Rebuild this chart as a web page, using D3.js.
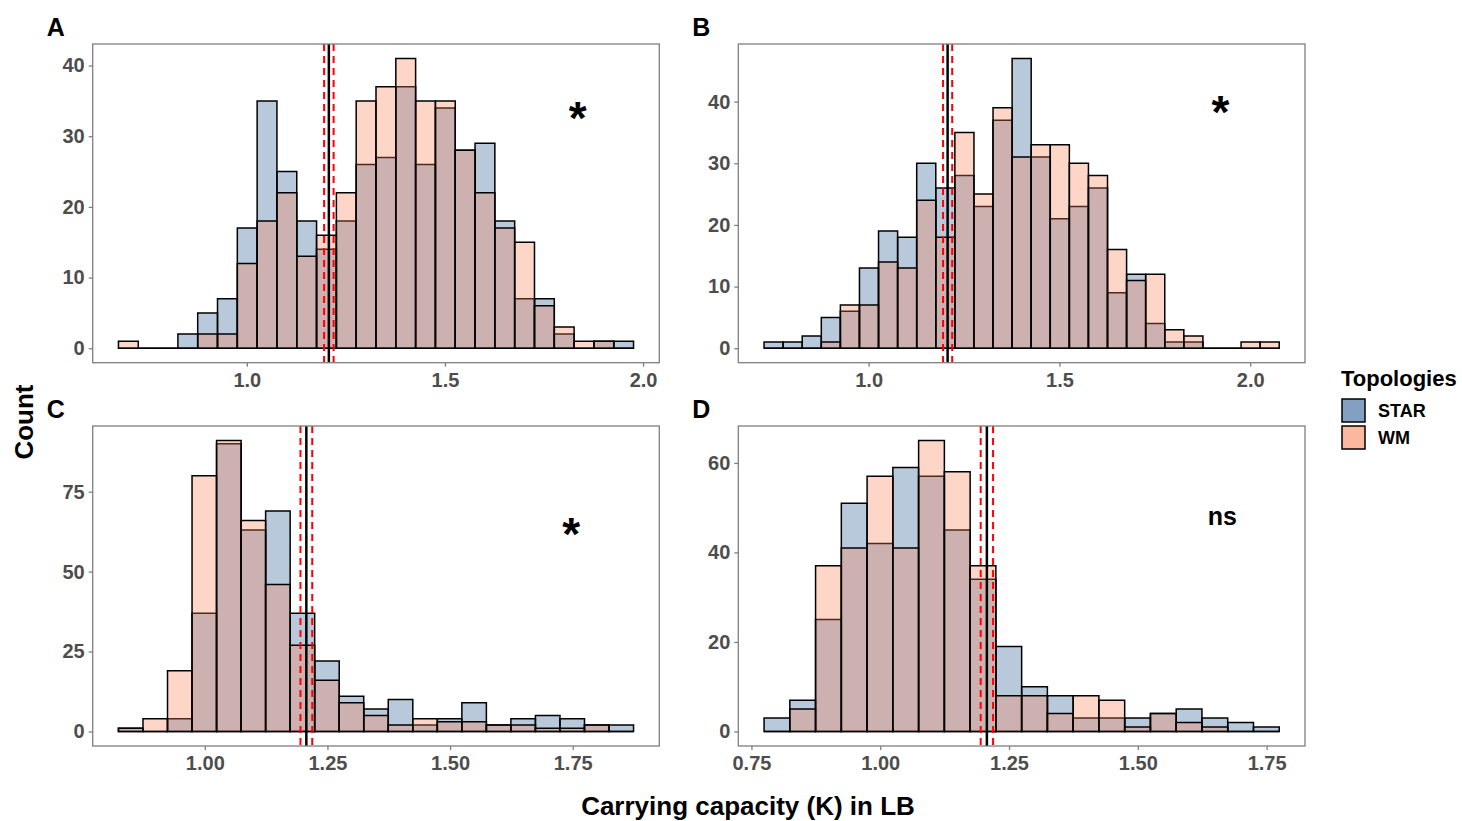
<!DOCTYPE html>
<html>
<head>
<meta charset="utf-8">
<script src="https://cdn.jsdelivr.net/npm/d3@7"></script>
<style>
  body { margin: 0; background: #ffffff; }
  text { font-family: "Liberation Sans", Arial, Helvetica, sans-serif; font-weight: bold; }
</style>
</head>
<body>
<svg id="chart" width="1462" height="821"></svg>
<script>
// Histogram counts of carrying capacity (K) per topology, bin width 0.05
const topologies = ["STAR", "WM"];
const panelIds = ["A", "B", "C", "D"];
const binWidth = 0.05;
const binStarts = [0.676, 0.726, 0.824, 0.7745];

const starA = [0,0,0,2,5,7,17,35,25,18,14,18,26,27,37,26,34,28,29,18,7,7,2,0,1,1];
const wmA   = [1,0,0,0,2,2,12,18,22,13,16,22,35,37,41,35,35,28,22,17,15,6,3,1,1,0];
const starB = [1,1,2,5,6,13,19,18,30,26,28,23,37,47,31,21,23,26,9,12,4,1,1,0,0,0,0];
const wmB   = [0,0,0,1,7,7,14,13,24,18,35,25,39,31,33,33,30,28,16,11,12,3,2,0,0,1,1];
const starC = [1,0,4,37,90,63,69,37,22,11,7,10,2,4,9,2,4,5,4,2,2];
const wmC   = [1,4,19,80,91,66,46,27,16,9,5,2,4,3,3,2,2,1,1,2,0];
const starD = [3,7,25,51,42,59,57,45,34,19,10,8,3,3,3,4,5,3,2,1];
const wmD   = [0,5,37,41,57,41,65,58,37,8,8,4,8,7,1,4,2,1,0,0];

// Axis tick values
const xTicksA = [1.0, 1.5, 2.0];
const xTicksB = [1.0, 1.5, 2.0];
const xTicksC = [1.00, 1.25, 1.50, 1.75];
const xTicksD = [0.75, 1.00, 1.25, 1.50, 1.75];
const yTicksA = [0, 10, 20, 30, 40];
const yTicksB = [0, 10, 20, 30, 40];
const yTicksC = [0, 25, 50, 75];
const yTicksD = [0, 20, 40, 60];

// Reference value of K (solid) and its interval (dashed)
const refMean = 1.207;
const refInterval = [1.195, 1.219];

// Significance of the STAR vs WM difference, with its label position (K, count)
const signifLabels = ["*", "*", "*", "ns"];
const signifK = [1.835, 1.922, 1.747, 1.664];
const signifCount = [34, 40, 65, 48];

const seriesByPanel = [[starA, wmA], [starB, wmB], [starC, wmC], [starD, wmD]];
const xTicksByPanel = [xTicksA, xTicksB, xTicksC, xTicksD];
const yTicksByPanel = [yTicksA, yTicksB, yTicksC, yTicksD];
const xFormats = [".1f", ".1f", ".2f", ".2f"];

const fillColors = { STAR: "#215692", WM: "#f97f53" };
const barAlpha = 0.32;
const keyAlpha = 0.56;

// Panel frames
const frames = [
  { left: 92.7,  right: 659.3, top: 44,  bottom: 362.7 },
  { left: 738.3, right: 1305,  top: 44,  bottom: 362.7 },
  { left: 92.7,  right: 659.3, top: 426, bottom: 746 },
  { left: 738.3, right: 1305,  top: 426, bottom: 746 }
];

const svg = d3.select("#chart");
svg.append("rect").attr("width", 1462).attr("height", 821).attr("fill", "#ffffff");

panelIds.forEach((pid, p) => {
  const f = frames[p];
  const series = seriesByPanel[p];
  const nBins = series[0].length;
  const kMin = binStarts[p];
  const kMax = kMin + nBins * binWidth;
  const kPad = (kMax - kMin) * 0.05;
  const maxCount = d3.max(series.flat());

  const x = d3.scaleLinear().domain([kMin - kPad, kMax + kPad]).range([f.left, f.right]);
  const y = d3.scaleLinear().domain([-maxCount * 0.05, maxCount * 1.05]).range([f.bottom, f.top]);

  const g = svg.append("g").attr("class", "panel-" + pid);

  // histogram bars, STAR first then WM over it
  topologies.forEach((topo, s) => {
    const counts = series[s];
    g.append("g").selectAll("path")
      .data(counts.map((c, i) => ({ k0: kMin + i * binWidth, k1: kMin + (i + 1) * binWidth, c })))
      .join("path")
      .attr("d", d => {
        const x0 = x(d.k0), x1 = x(d.k1), y0 = y(0), y1 = y(d.c);
        return `M${x0},${y0}V${y1}H${x1}V${y0}Z`;
      })
      .attr("fill", fillColors[topo])
      .attr("fill-opacity", barAlpha)
      .attr("stroke", "#000000")
      .attr("stroke-width", 1.5)
      .attr("stroke-linejoin", "miter");
  });

  // reference lines
  refInterval.forEach(v => {
    g.append("line")
      .attr("x1", x(v)).attr("x2", x(v))
      .attr("y1", f.top).attr("y2", f.bottom)
      .attr("stroke", "#ff0000").attr("stroke-width", 2)
      .attr("stroke-dasharray", "7,5");
  });
  g.append("line")
    .attr("x1", x(refMean)).attr("x2", x(refMean))
    .attr("y1", f.top).attr("y2", f.bottom)
    .attr("stroke", "#000000").attr("stroke-width", 2.5);

  // panel border
  g.append("rect")
    .attr("x", f.left).attr("y", f.top)
    .attr("width", f.right - f.left).attr("height", f.bottom - f.top)
    .attr("fill", "none").attr("stroke", "#7f7f7f").attr("stroke-width", 1.3);

  // axes
  const xAxis = g.append("g")
    .attr("transform", `translate(0,${f.bottom})`)
    .call(d3.axisBottom(x).tickValues(xTicksByPanel[p]).tickFormat(d3.format(xFormats[p])).tickSize(4).tickPadding(6));
  const yAxis = g.append("g")
    .attr("transform", `translate(${f.left},0)`)
    .call(d3.axisLeft(y).tickValues(yTicksByPanel[p]).tickFormat(d3.format("d")).tickSize(4).tickPadding(4));
  [xAxis, yAxis].forEach(ax => {
    ax.select(".domain").remove();
    ax.selectAll(".tick line").attr("stroke", "#7f7f7f").attr("stroke-width", 1.3);
    ax.selectAll(".tick text")
      .attr("fill", "#4d4d4d")
      .style("font-size", "20px")
      .style("font-family", "'Liberation Sans', Arial, sans-serif")
      .style("font-weight", "bold");
  });

  // panel tag
  g.append("text")
    .attr("x", f.left - 46).attr("y", f.top - 8)
    .attr("font-size", 25)
    .attr("fill", "#000000")
    .text(pid);

  // significance label
  const isStar = signifLabels[p] === "*";
  g.append("text")
    .attr("x", x(signifK[p])).attr("y", y(signifCount[p]))
    .attr("text-anchor", "middle")
    .attr("dy", isStar ? "0.57em" : "0.35em")
    .attr("font-size", isStar ? 46 : 25)
    .attr("fill", "#000000")
    .text(signifLabels[p]);
});

// axis titles
svg.append("text")
  .attr("transform", "translate(33,422) rotate(-90)")
  .attr("text-anchor", "middle")
  .attr("font-size", 26)
  .attr("fill", "#000000")
  .text("Count");
svg.append("text")
  .attr("x", 748).attr("y", 815)
  .attr("text-anchor", "middle")
  .attr("font-size", 26)
  .attr("fill", "#000000")
  .text("Carrying capacity (K) in LB");

// legend
const legend = svg.append("g").attr("class", "legend");
legend.append("text")
  .attr("x", 1341).attr("y", 386)
  .attr("font-size", 22)
  .attr("fill", "#000000")
  .text("Topologies");
topologies.forEach((topo, i) => {
  const ky = 399 + i * 27;
  legend.append("rect")
    .attr("x", 1342).attr("y", ky).attr("width", 23).attr("height", 23)
    .attr("fill", "#ffffff");
  legend.append("rect")
    .attr("x", 1342).attr("y", ky).attr("width", 23).attr("height", 23)
    .attr("fill", fillColors[topo]).attr("fill-opacity", keyAlpha)
    .attr("stroke", "#000000").attr("stroke-width", 1.5);
  legend.append("text")
    .attr("x", 1378).attr("y", ky + 12)
    .attr("dy", "0.35em")
    .attr("font-size", 18)
    .attr("fill", "#000000")
    .text(topo);
});
</script>
</body>
</html>
